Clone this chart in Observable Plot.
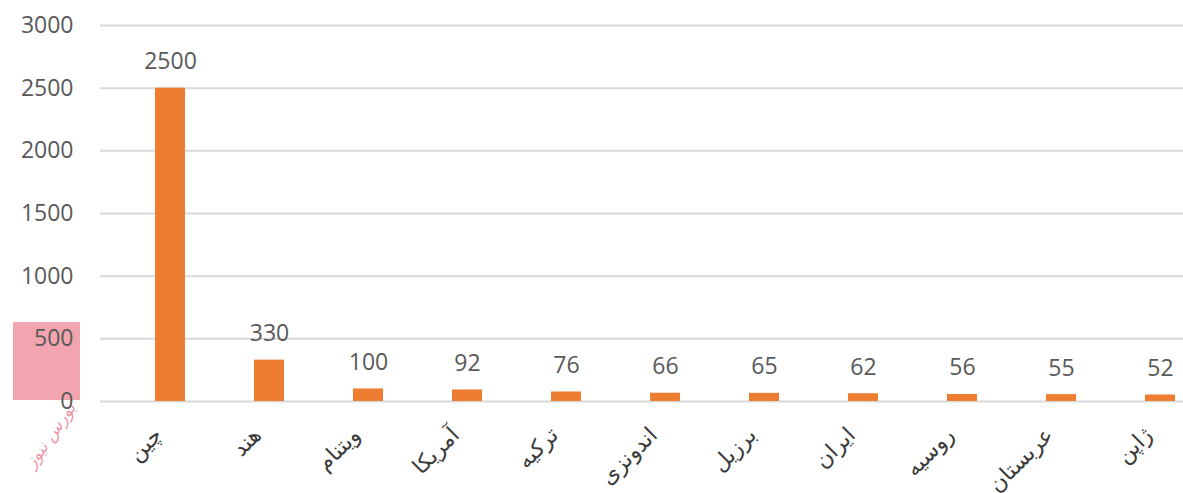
<!DOCTYPE html>
<html>
<head>
<meta charset="utf-8">
<script src="https://cdn.jsdelivr.net/npm/d3@7"></script>
<script src="https://cdn.jsdelivr.net/npm/@observablehq/plot@0.6"></script>
<style>
  html, body { margin: 0; padding: 0; background: #fff; }
  #wrap { position: relative; width: 1183px; height: 493px; overflow: hidden; }
  #logo { position: absolute; left: 13px; top: 322px; width: 67px; height: 78px;
          background: rgba(232, 90, 110, 0.55); z-index: 0; }
  #logotext { position: absolute; left: 5px; top: 425px; width: 90px; text-align: center; z-index: 0;
          font-family: "DejaVu Sans", sans-serif; font-size: 17px; font-style: italic; color: rgba(220, 60, 90, 0.55);
          transform: rotate(-55deg); transform-origin: 50% 50%; }
  #chart { position: absolute; left: 0; top: 0; z-index: 1; }
  #chart svg { background: transparent; }
</style>
</head>
<body>
<div id="wrap">
  <div id="logo"></div>
  <div id="logotext">بورس نیوز</div>
  <div id="chart"></div>
</div>
<script>
const countries = ["چین", "هند", "ویتنام", "آمریکا", "ترکیه", "اندونزی", "برزیل", "ایران", "روسیه", "عربستان", "ژاپن"];
const values = [2500, 330, 100, 92, 76, 66, 65, 62, 56, 55, 52];
const yTicks = [0, 500, 1000, 1500, 2000, 2500, 3000];

const data = countries.map((c, i) => ({country: c, value: values[i]}));

const numFont = "'Open Sans', sans-serif";
const chart = Plot.plot({
  width: 1183,
  height: 493,
  marginTop: 25,
  marginBottom: 92,
  marginLeft: 100,
  marginRight: 0,
  style: {background: "transparent", overflow: "hidden"},
  x: {type: "band", domain: countries, range: [120.5, 1209.5], paddingInner: 0.7, paddingOuter: 0.35},
  y: {domain: [0, 3000]},
  marks: [
    Plot.gridY(yTicks, {stroke: "#d9d9d9", strokeOpacity: 1, strokeWidth: 2}),
    Plot.barY(data, {x: "country", y: "value", fill: "#ED7D31"}),
    Plot.text(data, {x: "country", y: "value", text: d => String(d.value), dy: -19, lineAnchor: "bottom",
      fontSize: 23, fill: "#595959", fontFamily: numFont, letterSpacing: 2}),
    Plot.axisY(yTicks, {tickSize: 0, tickPadding: 27, fontSize: 23, color: "#595959",
      fontFamily: numFont, letterSpacing: 2, label: null, tickFormat: d => String(d)}),
    Plot.axisX({tickSize: 0, tickPadding: 30, tickRotate: -45, textAnchor: "end", dx: -12,
      fontSize: 22, color: "#3a3a3a", fontFamily: "'DejaVu Sans', sans-serif", label: null})
  ]
});
document.getElementById("chart").appendChild(chart);
</script>
</body>
</html>
